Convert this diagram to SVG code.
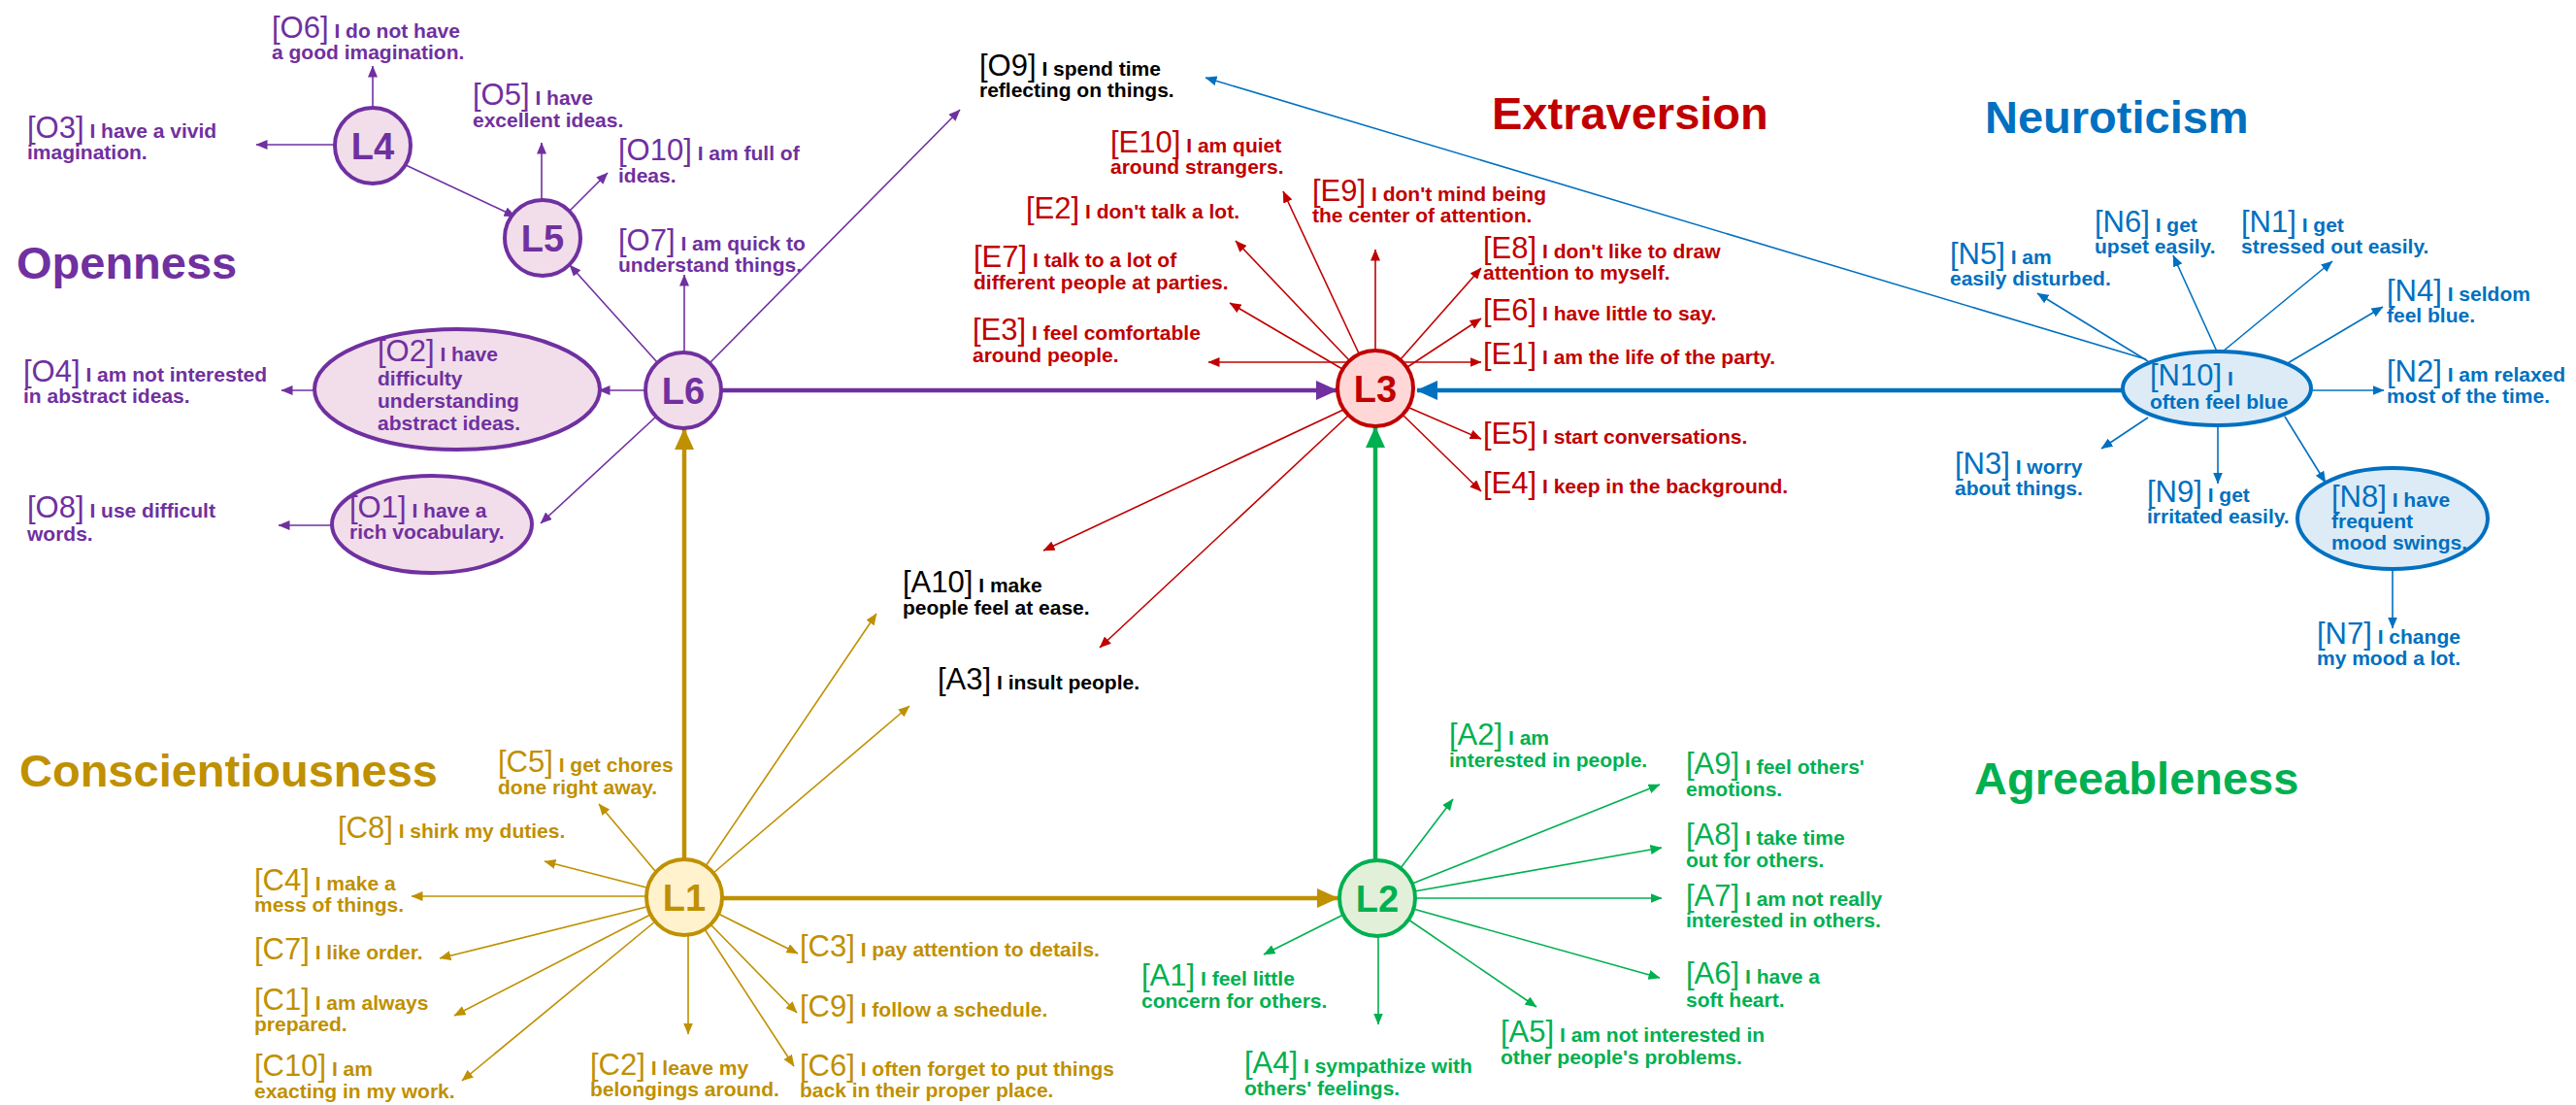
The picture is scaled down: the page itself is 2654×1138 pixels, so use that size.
<svg xmlns="http://www.w3.org/2000/svg" width="2654" height="1138" viewBox="0 0 2654 1138">
<style>
text{font-family:"Liberation Sans",Arial,sans-serif}
.c{font-size:31px}
.s{font-size:21px;font-weight:bold}
.t{font-size:47px;font-weight:bold}
.n{font-size:38px;font-weight:bold;text-anchor:middle}
.pu{fill:#7030A0}.re{fill:#C00000}.bl{fill:#0070C0}.go{fill:#BF9000}.gr{fill:#00B050}.bk{fill:#000}
line{fill:none}
.lp{stroke:#7030A0;stroke-width:1.6;marker-end:url(#ap)}
.lr{stroke:#C00000;stroke-width:1.6;marker-end:url(#ar)}
.lb{stroke:#0070C0;stroke-width:1.6;marker-end:url(#ab)}
.lg{stroke:#BF9000;stroke-width:1.6;marker-end:url(#ag)}
.ln{stroke:#00B050;stroke-width:1.6;marker-end:url(#an)}
.Tp{stroke:#7030A0;stroke-width:4.5;marker-end:url(#Ap)}
.Tb{stroke:#0070C0;stroke-width:4.5;marker-end:url(#Ab)}
.Tg{stroke:#BF9000;stroke-width:4.5;marker-end:url(#Ag)}
.Tn{stroke:#00B050;stroke-width:4.5;marker-end:url(#An)}
.np{fill:#F1DEEA;stroke:#7030A0;stroke-width:4}
.nr{fill:#FFD7D7;stroke:#C00000;stroke-width:4}
.nb{fill:#DDEBF7;stroke:#0070C0;stroke-width:4}
.ng{fill:#FFF2CC;stroke:#BF9000;stroke-width:4}
.nn{fill:#E2F0D9;stroke:#00B050;stroke-width:4}
</style>
<defs>
<marker id="ap" viewBox="0 0 12 10" refX="11.5" refY="5" markerWidth="12" markerHeight="10" markerUnits="userSpaceOnUse" orient="auto"><path d="M0,0L12,5L0,10z" fill="#7030A0"/></marker>
<marker id="ar" viewBox="0 0 12 10" refX="11.5" refY="5" markerWidth="12" markerHeight="10" markerUnits="userSpaceOnUse" orient="auto"><path d="M0,0L12,5L0,10z" fill="#C00000"/></marker>
<marker id="ab" viewBox="0 0 12 10" refX="11.5" refY="5" markerWidth="12" markerHeight="10" markerUnits="userSpaceOnUse" orient="auto"><path d="M0,0L12,5L0,10z" fill="#0070C0"/></marker>
<marker id="ag" viewBox="0 0 12 10" refX="11.5" refY="5" markerWidth="12" markerHeight="10" markerUnits="userSpaceOnUse" orient="auto"><path d="M0,0L12,5L0,10z" fill="#BF9000"/></marker>
<marker id="an" viewBox="0 0 12 10" refX="11.5" refY="5" markerWidth="12" markerHeight="10" markerUnits="userSpaceOnUse" orient="auto"><path d="M0,0L12,5L0,10z" fill="#00B050"/></marker>
<marker id="Ap" viewBox="0 0 22 20" refX="21" refY="10" markerWidth="22" markerHeight="20" markerUnits="userSpaceOnUse" orient="auto"><path d="M0,0L22,10L0,20z" fill="#7030A0"/></marker>
<marker id="Ab" viewBox="0 0 22 20" refX="21" refY="10" markerWidth="22" markerHeight="20" markerUnits="userSpaceOnUse" orient="auto"><path d="M0,0L22,10L0,20z" fill="#0070C0"/></marker>
<marker id="Ag" viewBox="0 0 22 20" refX="21" refY="10" markerWidth="22" markerHeight="20" markerUnits="userSpaceOnUse" orient="auto"><path d="M0,0L22,10L0,20z" fill="#BF9000"/></marker>
<marker id="An" viewBox="0 0 22 20" refX="21" refY="10" markerWidth="22" markerHeight="20" markerUnits="userSpaceOnUse" orient="auto"><path d="M0,0L22,10L0,20z" fill="#00B050"/></marker>
</defs>
<rect width="2654" height="1138" fill="#fff"/>

<g id="connectors">
<line class="lp" x1="384" y1="111" x2="384" y2="68"/>
<line class="lp" x1="345" y1="149" x2="264" y2="149"/>
<line class="lp" x1="418" y1="170" x2="531" y2="223"/>
<line class="lp" x1="558" y1="206" x2="558" y2="147"/>
<line class="lp" x1="587" y1="217" x2="626" y2="178"/>
<line class="lp" x1="677" y1="373" x2="587" y2="273"/>
<line class="lp" x1="705" y1="363" x2="705" y2="283"/>
<line class="lp" x1="731" y1="374" x2="989" y2="113"/>
<line class="lp" x1="665" y1="402" x2="617" y2="402"/>
<line class="lp" x1="324" y1="402" x2="290" y2="402"/>
<line class="lp" x1="676" y1="429" x2="557" y2="539"/>
<line class="lp" x1="342" y1="541" x2="287" y2="541"/>
<line class="Tp" x1="743" y1="402" x2="1377" y2="402"/>

<line class="lr" x1="1400" y1="364" x2="1322" y2="197"/>
<line class="lr" x1="1390" y1="371" x2="1273" y2="248"/>
<line class="lr" x1="1383" y1="380" x2="1267" y2="312"/>
<line class="lr" x1="1389" y1="373" x2="1245" y2="373"/>
<line class="lr" x1="1417" y1="361" x2="1417" y2="257"/>
<line class="lr" x1="1443" y1="370" x2="1526" y2="276"/>
<line class="lr" x1="1450" y1="378" x2="1526" y2="328"/>
<line class="lr" x1="1445" y1="373" x2="1526" y2="373"/>
<line class="lr" x1="1452" y1="420" x2="1526" y2="452"/>
<line class="lr" x1="1446" y1="428" x2="1526" y2="506"/>
<line class="lr" x1="1384" y1="422" x2="1075" y2="567"/>
<line class="lr" x1="1389" y1="428" x2="1133" y2="667"/>

<line class="lb" x1="2211" y1="370" x2="1242" y2="80"/>
<line class="lb" x1="2213" y1="372" x2="2099" y2="302"/>
<line class="lb" x1="2284" y1="362" x2="2239" y2="263"/>
<line class="lb" x1="2290" y1="362" x2="2403" y2="269"/>
<line class="lb" x1="2357" y1="374" x2="2455" y2="316"/>
<line class="lb" x1="2381" y1="402" x2="2456" y2="402"/>
<line class="lb" x1="2213" y1="430" x2="2165" y2="462"/>
<line class="lb" x1="2285" y1="438" x2="2285" y2="498"/>
<line class="lb" x1="2354" y1="429" x2="2396" y2="497"/>
<line class="lb" x1="2465" y1="586" x2="2465" y2="647"/>
<line class="Tb" x1="2187" y1="402" x2="1460" y2="402"/>

<line class="lg" x1="675" y1="897" x2="617" y2="828"/>
<line class="lg" x1="666" y1="914" x2="561" y2="887"/>
<line class="lg" x1="666" y1="923" x2="424" y2="923"/>
<line class="lg" x1="666" y1="934" x2="453" y2="987"/>
<line class="lg" x1="670" y1="942" x2="468" y2="1046"/>
<line class="lg" x1="675" y1="949" x2="476" y2="1113"/>
<line class="lg" x1="709" y1="963" x2="709" y2="1065"/>
<line class="lg" x1="726" y1="957" x2="818" y2="1098"/>
<line class="lg" x1="732" y1="952" x2="821" y2="1043"/>
<line class="lg" x1="740" y1="941" x2="822" y2="982"/>
<line class="lg" x1="727" y1="892" x2="903" y2="632"/>
<line class="lg" x1="735" y1="899" x2="937" y2="727"/>
<line class="Tg" x1="705" y1="885" x2="705" y2="442"/>
<line class="Tg" x1="745" y1="925" x2="1378" y2="925"/>

<line class="ln" x1="1443" y1="894" x2="1497" y2="823"/>
<line class="ln" x1="1455" y1="910" x2="1710" y2="808"/>
<line class="ln" x1="1457" y1="918" x2="1712" y2="873"/>
<line class="ln" x1="1459" y1="925" x2="1712" y2="925"/>
<line class="ln" x1="1456" y1="936" x2="1710" y2="1007"/>
<line class="ln" x1="1451" y1="947" x2="1583" y2="1037"/>
<line class="ln" x1="1420" y1="964" x2="1420" y2="1055"/>
<line class="ln" x1="1384" y1="942" x2="1302" y2="983"/>
<line class="Tn" x1="1417" y1="886" x2="1417" y2="440"/>
</g>

<g id="titles">
<text class="t pu" x="17" y="287">Openness</text>
<text class="t re" x="1537" y="133">Extraversion</text>
<text class="t bl" x="2045" y="137">Neuroticism</text>
<text class="t go" x="20" y="810">Conscientiousness</text>
<text class="t gr" x="2034" y="818">Agreeableness</text>
</g>

<g id="L4"><circle class="np" cx="384" cy="150" r="39"/><text class="n pu" x="384" y="164">L4</text></g>
<g id="L5"><circle class="np" cx="559" cy="245" r="39"/><text class="n pu" x="559" y="259">L5</text></g>
<g id="L6"><circle class="np" cx="704" cy="402" r="39"/><text class="n pu" x="704" y="416">L6</text></g>
<g id="L3"><circle class="nr" cx="1417" cy="400" r="39"/><text class="n re" x="1417" y="414">L3</text></g>
<g id="L1"><circle class="ng" cx="705" cy="924" r="39"/><text class="n go" x="705" y="938">L1</text></g>
<g id="L2"><circle class="nn" cx="1419" cy="925" r="39"/><text class="n gr" x="1419" y="939">L2</text></g>

<g id="O2"><ellipse class="np" cx="471" cy="401" rx="147" ry="62"/>
<text class="pu" x="389" y="372"><tspan class="c">[O2]</tspan><tspan class="s"> I have</tspan><tspan class="s" x="389" y="397">difficulty</tspan><tspan class="s" x="389" y="420">understanding</tspan><tspan class="s" x="389" y="443">abstract ideas.</tspan></text></g>
<g id="O1"><ellipse class="np" cx="445" cy="540" rx="103" ry="50"/>
<text class="pu" x="360" y="533"><tspan class="c">[O1]</tspan><tspan class="s"> I have a</tspan><tspan class="s" x="360" y="555">rich vocabulary.</tspan></text></g>
<g id="N10"><ellipse class="nb" cx="2284" cy="400" rx="97" ry="38"/>
<text class="bl" x="2215" y="397"><tspan class="c">[N10]</tspan><tspan class="s"> I</tspan><tspan class="s" x="2215" y="421">often feel blue</tspan></text></g>
<g id="N8"><ellipse class="nb" cx="2465" cy="534" rx="98" ry="52"/>
<text class="bl" x="2402" y="522"><tspan class="c">[N8]</tspan><tspan class="s"> I have</tspan><tspan class="s" x="2402" y="544">frequent</tspan><tspan class="s" x="2402" y="566">mood swings.</tspan></text></g>

<g id="O6"><text class="pu" x="280" y="39"><tspan class="c">[O6]</tspan><tspan class="s"> I do not have</tspan><tspan class="s" x="280" y="61">a good imagination.</tspan></text></g>
<g id="O3"><text class="pu" x="28" y="142"><tspan class="c">[O3]</tspan><tspan class="s"> I have a vivid</tspan><tspan class="s" x="28" y="164">imagination.</tspan></text></g>
<g id="O5"><text class="pu" x="487" y="108"><tspan class="c">[O5]</tspan><tspan class="s"> I have</tspan><tspan class="s" x="487" y="131">excellent ideas.</tspan></text></g>
<g id="O10"><text class="pu" x="637" y="165"><tspan class="c">[O10]</tspan><tspan class="s"> I am full of</tspan><tspan class="s" x="637" y="188">ideas.</tspan></text></g>
<g id="O7"><text class="pu" x="637" y="258"><tspan class="c">[O7]</tspan><tspan class="s"> I am quick to</tspan><tspan class="s" x="637" y="280">understand things.</tspan></text></g>
<g id="O4"><text class="pu" x="24" y="393"><tspan class="c">[O4]</tspan><tspan class="s"> I am not interested</tspan><tspan class="s" x="24" y="415">in abstract ideas.</tspan></text></g>
<g id="O8"><text class="pu" x="28" y="533"><tspan class="c">[O8]</tspan><tspan class="s"> I use difficult</tspan><tspan class="s" x="28" y="557">words.</tspan></text></g>
<g id="O9"><text class="bk" x="1009" y="78"><tspan class="c">[O9]</tspan><tspan class="s"> I spend time</tspan><tspan class="s" x="1009" y="100">reflecting on things.</tspan></text></g>
<g id="A10"><text class="bk" x="930" y="610"><tspan class="c">[A10]</tspan><tspan class="s"> I make</tspan><tspan class="s" x="930" y="633">people feel at ease.</tspan></text></g>
<g id="A3"><text class="bk" x="966" y="710"><tspan class="c">[A3]</tspan><tspan class="s"> I insult people.</tspan></text></g>

<g id="E10"><text class="re" x="1144" y="157"><tspan class="c">[E10]</tspan><tspan class="s"> I am quiet</tspan><tspan class="s" x="1144" y="179">around strangers.</tspan></text></g>
<g id="E9"><text class="re" x="1352" y="207"><tspan class="c">[E9]</tspan><tspan class="s"> I don't mind being</tspan><tspan class="s" x="1352" y="229">the center of attention.</tspan></text></g>
<g id="E2"><text class="re" x="1057" y="225"><tspan class="c">[E2]</tspan><tspan class="s"> I don't talk a lot.</tspan></text></g>
<g id="E8"><text class="re" x="1528" y="266"><tspan class="c">[E8]</tspan><tspan class="s"> I don't like to draw</tspan><tspan class="s" x="1528" y="288">attention to myself.</tspan></text></g>
<g id="E7"><text class="re" x="1003" y="275"><tspan class="c">[E7]</tspan><tspan class="s"> I talk to a lot of</tspan><tspan class="s" x="1003" y="298">different people at parties.</tspan></text></g>
<g id="E6"><text class="re" x="1528" y="330"><tspan class="c">[E6]</tspan><tspan class="s"> I have little to say.</tspan></text></g>
<g id="E3"><text class="re" x="1002" y="350"><tspan class="c">[E3]</tspan><tspan class="s"> I feel comfortable</tspan><tspan class="s" x="1002" y="373">around people.</tspan></text></g>
<g id="E1"><text class="re" x="1528" y="375"><tspan class="c">[E1]</tspan><tspan class="s"> I am the life of the party.</tspan></text></g>
<g id="E5"><text class="re" x="1528" y="457"><tspan class="c">[E5]</tspan><tspan class="s"> I start conversations.</tspan></text></g>
<g id="E4"><text class="re" x="1528" y="508"><tspan class="c">[E4]</tspan><tspan class="s"> I keep in the background.</tspan></text></g>

<g id="N6"><text class="bl" x="2158" y="239"><tspan class="c">[N6]</tspan><tspan class="s"> I get</tspan><tspan class="s" x="2158" y="261">upset easily.</tspan></text></g>
<g id="N1"><text class="bl" x="2309" y="239"><tspan class="c">[N1]</tspan><tspan class="s"> I get</tspan><tspan class="s" x="2309" y="261">stressed out easily.</tspan></text></g>
<g id="N5"><text class="bl" x="2009" y="272"><tspan class="c">[N5]</tspan><tspan class="s"> I am</tspan><tspan class="s" x="2009" y="294">easily disturbed.</tspan></text></g>
<g id="N4"><text class="bl" x="2459" y="310"><tspan class="c">[N4]</tspan><tspan class="s"> I seldom</tspan><tspan class="s" x="2459" y="332">feel blue.</tspan></text></g>
<g id="N2"><text class="bl" x="2459" y="393"><tspan class="c">[N2]</tspan><tspan class="s"> I am relaxed</tspan><tspan class="s" x="2459" y="415">most of the time.</tspan></text></g>
<g id="N3"><text class="bl" x="2014" y="488"><tspan class="c">[N3]</tspan><tspan class="s"> I worry</tspan><tspan class="s" x="2014" y="510">about things.</tspan></text></g>
<g id="N9"><text class="bl" x="2212" y="517"><tspan class="c">[N9]</tspan><tspan class="s"> I get</tspan><tspan class="s" x="2212" y="539">irritated easily.</tspan></text></g>
<g id="N7"><text class="bl" x="2387" y="663"><tspan class="c">[N7]</tspan><tspan class="s"> I change</tspan><tspan class="s" x="2387" y="685">my mood a lot.</tspan></text></g>

<g id="C5"><text class="go" x="513" y="795"><tspan class="c">[C5]</tspan><tspan class="s"> I get chores</tspan><tspan class="s" x="513" y="818">done right away.</tspan></text></g>
<g id="C8"><text class="go" x="348" y="863"><tspan class="c">[C8]</tspan><tspan class="s"> I shirk my duties.</tspan></text></g>
<g id="C4"><text class="go" x="262" y="917"><tspan class="c">[C4]</tspan><tspan class="s"> I make a</tspan><tspan class="s" x="262" y="939">mess of things.</tspan></text></g>
<g id="C7"><text class="go" x="262" y="988"><tspan class="c">[C7]</tspan><tspan class="s"> I like order.</tspan></text></g>
<g id="C1"><text class="go" x="262" y="1040"><tspan class="c">[C1]</tspan><tspan class="s"> I am always</tspan><tspan class="s" x="262" y="1062">prepared.</tspan></text></g>
<g id="C10"><text class="go" x="262" y="1108"><tspan class="c">[C10]</tspan><tspan class="s"> I am</tspan><tspan class="s" x="262" y="1131">exacting in my work.</tspan></text></g>
<g id="C2"><text class="go" x="608" y="1107"><tspan class="c">[C2]</tspan><tspan class="s"> I leave my</tspan><tspan class="s" x="608" y="1129">belongings around.</tspan></text></g>
<g id="C3"><text class="go" x="824" y="985"><tspan class="c">[C3]</tspan><tspan class="s"> I pay attention to details.</tspan></text></g>
<g id="C9"><text class="go" x="824" y="1047"><tspan class="c">[C9]</tspan><tspan class="s"> I follow a schedule.</tspan></text></g>
<g id="C6"><text class="go" x="824" y="1108"><tspan class="c">[C6]</tspan><tspan class="s"> I often forget to put things</tspan><tspan class="s" x="824" y="1130">back in their proper place.</tspan></text></g>

<g id="A2"><text class="gr" x="1493" y="767"><tspan class="c">[A2]</tspan><tspan class="s"> I am</tspan><tspan class="s" x="1493" y="790">interested in people.</tspan></text></g>
<g id="A9"><text class="gr" x="1737" y="797"><tspan class="c">[A9]</tspan><tspan class="s"> I feel others'</tspan><tspan class="s" x="1737" y="820">emotions.</tspan></text></g>
<g id="A8"><text class="gr" x="1737" y="870"><tspan class="c">[A8]</tspan><tspan class="s"> I take time</tspan><tspan class="s" x="1737" y="893">out for others.</tspan></text></g>
<g id="A7"><text class="gr" x="1737" y="933"><tspan class="c">[A7]</tspan><tspan class="s"> I am not really</tspan><tspan class="s" x="1737" y="955">interested in others.</tspan></text></g>
<g id="A6"><text class="gr" x="1737" y="1013"><tspan class="c">[A6]</tspan><tspan class="s"> I have a</tspan><tspan class="s" x="1737" y="1037">soft heart.</tspan></text></g>
<g id="A5"><text class="gr" x="1546" y="1073"><tspan class="c">[A5]</tspan><tspan class="s"> I am not interested in</tspan><tspan class="s" x="1546" y="1096">other people's problems.</tspan></text></g>
<g id="A4"><text class="gr" x="1282" y="1105"><tspan class="c">[A4]</tspan><tspan class="s"> I sympathize with</tspan><tspan class="s" x="1282" y="1128">others' feelings.</tspan></text></g>
<g id="A1"><text class="gr" x="1176" y="1015"><tspan class="c">[A1]</tspan><tspan class="s"> I feel little</tspan><tspan class="s" x="1176" y="1038">concern for others.</tspan></text></g>
</svg>
